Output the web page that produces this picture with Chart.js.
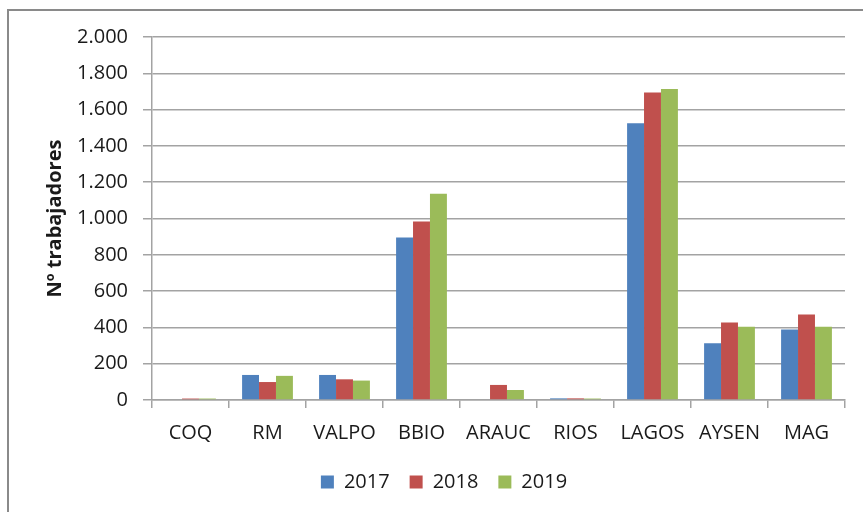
<!DOCTYPE html>
<html lang="es">
<head>
    <meta charset="UTF-8">
    <title>Nº trabajadores por región</title>
    <style>
        html, body { margin: 0; padding: 0; background: #fff; }
        #wrap { width: 863px; height: 512px; position: relative; }
    </style>
</head>
<body>
    <div id="wrap">
        <canvas id="myChart" width="863" height="512"></canvas>
    </div>

    <script src="https://cdn.jsdelivr.net/npm/chart.js"></script>
    <script>
        // datos
        const regiones = ['COQ', 'RM', 'VALPO', 'BBIO', 'ARAUC', 'RIOS', 'LAGOS', 'AYSEN', 'MAG'];
        const datos2017 = [0, 138, 138, 895, 0, 9, 1525, 313, 388];
        const datos2018 = [8, 99, 114, 983, 83, 9, 1694, 427, 471];
        const datos2019 = [8, 133, 107, 1136, 55, 8, 1713, 403, 403];
        const yMax = 2000;
        const yStep = 200;

        const gridColor = '#a3a3a3';
        const textColor = '#1a1a1a';
        const fontFamily = '"Open Sans", "Liberation Sans", sans-serif';

        // formato con punto de miles: 2.000
        function miles(v) {
            return String(v).replace(/\B(?=(\d{3})+(?!\d))/g, '.');
        }

        // marco gris arriba y a la izquierda
        const marco = {
            id: 'marco',
            beforeDraw(chart) {
                const c = chart.ctx;
                c.save();
                c.strokeStyle = '#8a8a8a';
                c.lineWidth = 2;
                c.beginPath();
                c.moveTo(8, 512);
                c.lineTo(8, 10);
                c.lineTo(863, 10);
                c.stroke();
                c.restore();
            }
        };

        const ctx = document.getElementById('myChart').getContext('2d');
        const myChart = new Chart(ctx, {
            type: 'bar',
            data: {
                labels: regiones,
                datasets: [
                    { label: '2017', data: datos2017, backgroundColor: '#4F81BD' },
                    { label: '2018', data: datos2018, backgroundColor: '#C0504D' },
                    { label: '2019', data: datos2019, backgroundColor: '#9BBB59' }
                ]
            },
            options: {
                responsive: false,
                animation: false,
                layout: {
                    padding: { left: 43, top: 37, right: 18, bottom: 10 }
                },
                datasets: {
                    bar: {
                        categoryPercentage: 0.66,
                        barPercentage: 1.0
                    }
                },
                plugins: {
                    tooltip: { enabled: false },
                    legend: {
                        position: 'bottom',
                        labels: {
                            boxWidth: 13,
                            boxHeight: 13,
                            padding: 20,
                            color: textColor,
                            font: { family: fontFamily, size: 20 }
                        }
                    }
                },
                scales: {
                    x: {
                        grid: {
                            display: true,
                            drawOnChartArea: false,
                            offset: true,
                            tickLength: 8,
                            color: gridColor,
                            lineWidth: 1.5
                        },
                        border: { color: gridColor, width: 1.5 },
                        ticks: {
                            padding: 13,
                            color: textColor,
                            font: { family: fontFamily, size: 20 }
                        },
                        afterFit(scale) { scale.height = 52; }
                    },
                    y: {
                        min: 0,
                        max: yMax,
                        grid: {
                            color: gridColor,
                            lineWidth: 1.5,
                            tickLength: 9
                        },
                        border: { color: gridColor, width: 1.5 },
                        ticks: {
                            stepSize: yStep,
                            padding: 15,
                            color: textColor,
                            font: { family: fontFamily, size: 20 },
                            callback: function(value) {
                                return miles(value);
                            }
                        },
                        title: {
                            display: true,
                            text: 'Nº trabajadores',
                            color: textColor,
                            padding: 0,
                            font: { family: fontFamily, size: 20, weight: 'bold' }
                        },
                        afterFit(scale) { scale.width = 109; }
                    }
                }
            },
            plugins: [marco]
        });
    </script>
</body>
</html>
